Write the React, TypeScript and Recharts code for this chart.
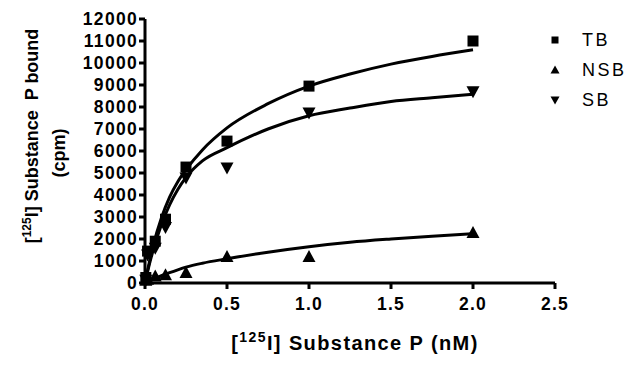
import { ComposedChart, Line, Scatter, XAxis, YAxis } from "recharts";

// concentrations (nM) and measured counts (cpm)
const conc = [0.005, 0.0156, 0.0625, 0.125, 0.25, 0.5, 1, 2];
const tbVals = [250, 1450, 1900, 2900, 5270, 6450, 8950, 11000];
const nsbVals = [100, 150, 300, 350, 450, 1180, 1180, 2270];
const sbVals = [150, 1300, 1600, 2550, 4800, 5250, 7750, 8720];

// fitted curves
const fitX = [0, 0.025, 0.05, 0.1, 0.15, 0.2, 0.25, 0.35, 0.5, 0.75, 1, 1.25, 1.5, 1.75, 2];
const tbFit = [0, 900, 1700, 2950, 3900, 4600, 5150, 6050, 7050, 8150, 8950, 9500, 9950, 10300, 10600];
const sbFit = [0, 800, 1500, 2650, 3550, 4250, 4800, 5550, 6150, 7000, 7600, 7950, 8250, 8420, 8580];
const nsbFit = [0, 90, 170, 330, 470, 600, 720, 900, 1100, 1400, 1650, 1850, 2000, 2130, 2240];

const xTicks = [0, 0.5, 1, 1.5, 2, 2.5];
const yTicks = [0, 1000, 2000, 3000, 4000, 5000, 6000, 7000, 8000, 9000, 10000, 11000, 12000];
const seriesNames = ["TB", "NSB", "SB"];

const pts = (ys: number[]) => conc.map((x, i) => ({ x, y: ys[i] }));
const fit = (ys: number[]) => fitX.map((x, i) => ({ x, y: ys[i] }));

const FONT = "'Liberation Sans', Arial, sans-serif";

interface ShapeProps {
  cx?: number;
  cy?: number;
}

const Square = ({ cx, cy }: ShapeProps) =>
  cx == null || cy == null ? null : <rect x={cx - 5.5} y={cy - 5.5} width={11} height={11} fill="#000" />;

const TriUp = ({ cx, cy }: ShapeProps) =>
  cx == null || cy == null ? null : (
    <polygon points={`${cx - 6.5},${cy + 5} ${cx + 6.5},${cy + 5} ${cx},${cy - 7}`} fill="#000" />
  );

const TriDown = ({ cx, cy }: ShapeProps) =>
  cx == null || cy == null ? null : (
    <polygon points={`${cx - 6.5},${cy - 5} ${cx + 6.5},${cy - 5} ${cx},${cy + 7}`} fill="#000" />
  );

const legendIcons = [
  (x: number, y: number) => <rect x={x - 3.5} y={y - 3.5} width={7} height={7} fill="#000" />,
  (x: number, y: number) => <polygon points={`${x - 4.5},${y + 3.5} ${x + 4.5},${y + 3.5} ${x},${y - 4.5}`} fill="#000" />,
  (x: number, y: number) => <polygon points={`${x - 4.5},${y - 3.5} ${x + 4.5},${y - 3.5} ${x},${y + 4.5}`} fill="#000" />,
];

const LegendBox = () => (
  <svg width={93} height={80} style={{ position: "absolute", left: 547, top: 30 }}>
    {seriesNames.map((name, i) => (
      <g key={name}>
        {legendIcons[i](8, 10 + i * 30)}
        <text x={35} y={16 + i * 30} fontFamily={FONT} fontSize={18} letterSpacing={2.5} fill="#000">
          {name}
        </text>
      </g>
    ))}
  </svg>
);

const tickStyle = { fontFamily: FONT, fontSize: 17.5, fontWeight: 700, fill: "#000", letterSpacing: 1.3 };

export default function App() {
  return (
    <div style={{ position: "absolute", left: 0, top: 0, width: 640, height: 368, background: "#fff" }}>
      <ComposedChart width={640} height={368} margin={{ top: 19, right: 85, left: 0, bottom: 0 }}>
        <XAxis
          dataKey="x"
          type="number"
          domain={[0, 2.5]}
          ticks={xTicks}
          tickFormatter={(v: number) => v.toFixed(1)}
          height={85}
          tick={tickStyle}
          tickSize={6}
          tickMargin={9}
          axisLine={{ stroke: "#000", strokeWidth: 3 }}
          tickLine={{ stroke: "#000", strokeWidth: 3 }}
        />
        <YAxis
          type="number"
          domain={[0, 12000]}
          ticks={yTicks}
          width={145}
          tick={tickStyle}
          tickSize={6}
          tickMargin={1}
          axisLine={{ stroke: "#000", strokeWidth: 3 }}
          tickLine={{ stroke: "#000", strokeWidth: 3 }}
          interval={0}
        />
        <Line data={fit(tbFit)} dataKey="y" type="monotone" stroke="#000" strokeWidth={3} dot={false} isAnimationActive={false} />
        <Line data={fit(sbFit)} dataKey="y" type="monotone" stroke="#000" strokeWidth={3} dot={false} isAnimationActive={false} />
        <Line data={fit(nsbFit)} dataKey="y" type="monotone" stroke="#000" strokeWidth={3} dot={false} isAnimationActive={false} />
        <Scatter name={seriesNames[0]} data={pts(tbVals)} dataKey="y" shape={(p: ShapeProps) => <Square {...p} />} isAnimationActive={false} />
        <Scatter name={seriesNames[1]} data={pts(nsbVals)} dataKey="y" shape={(p: ShapeProps) => <TriUp {...p} />} isAnimationActive={false} />
        <Scatter name={seriesNames[2]} data={pts(sbVals)} dataKey="y" shape={(p: ShapeProps) => <TriDown {...p} />} isAnimationActive={false} />
        <text transform="translate(38 136) rotate(-90)" textAnchor="middle" fontFamily={FONT} fontSize={18} fontWeight={700} fill="#000">
          [<tspan dy={-7} fontSize={12}>125</tspan>
          <tspan dy={7}>{"I] Substance\u00a0\u00a0P bound"}</tspan>
        </text>
        <text transform="translate(65 153) rotate(-90)" textAnchor="middle" fontFamily={FONT} fontSize={18} fontWeight={700} fill="#000">
          (cpm)
        </text>
        <text x={355} y={350} textAnchor="middle" fontFamily={FONT} fontSize={20} fontWeight={700} letterSpacing={1.4} fill="#000">
          [<tspan dy={-8} fontSize={14}>125</tspan>
          <tspan dy={8}>I] Substance P (nM)</tspan>
        </text>
      </ComposedChart>
      <LegendBox />
    </div>
  );
}
